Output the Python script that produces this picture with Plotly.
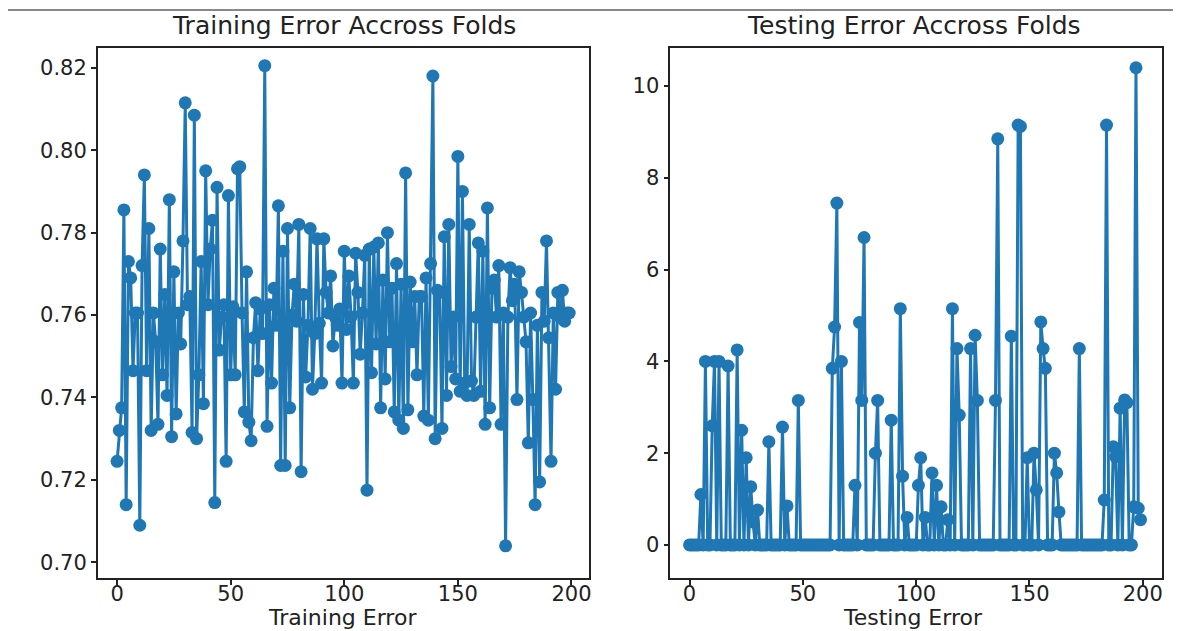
import plotly.graph_objects as go

# ---- data ----
train_error = [
    0.7245, 0.732, 0.7375, 0.7855, 0.714, 0.773, 0.769, 0.7465, 0.7605, 0.7605,
    0.709, 0.772, 0.794, 0.7465, 0.781, 0.732, 0.7605, 0.7535, 0.7335, 0.776,
    0.7455, 0.765, 0.7405, 0.788, 0.7305, 0.7705, 0.736, 0.7605, 0.753, 0.778,
    0.8115, 0.7625, 0.7645, 0.7315, 0.8085, 0.730, 0.7455, 0.773, 0.7385, 0.795,
    0.7625, 0.776, 0.783, 0.7145, 0.791, 0.7515, 0.7595, 0.7625, 0.7245, 0.789,
    0.7455, 0.762, 0.7455, 0.7955, 0.796, 0.7605, 0.7365, 0.7705, 0.734, 0.7295,
    0.7545, 0.763, 0.7465, 0.7615, 0.7555, 0.8205, 0.733, 0.7625, 0.7435, 0.7665,
    0.7575, 0.7865, 0.7235, 0.7755, 0.7235, 0.781, 0.7375, 0.760, 0.7675, 0.7585,
    0.782, 0.722, 0.765, 0.745, 0.7575, 0.781, 0.742, 0.7555, 0.7785, 0.758,
    0.7435, 0.7785, 0.7655, 0.7605, 0.7695, 0.7525, 0.7595, 0.7575, 0.7615, 0.7435,
    0.7755, 0.7565, 0.7695, 0.7595, 0.7435, 0.775, 0.7655, 0.7505, 0.7605, 0.7745,
    0.7175, 0.776, 0.746, 0.7765, 0.753, 0.7775, 0.7375, 0.7685, 0.7445, 0.780,
    0.7535, 0.7665, 0.7365, 0.7725, 0.7345, 0.7675, 0.7325, 0.7945, 0.737, 0.768,
    0.7535, 0.7645, 0.7455, 0.7645, 0.7645, 0.7355, 0.769, 0.7345, 0.7725, 0.818,
    0.730, 0.766, 0.7655, 0.7325, 0.779, 0.7405, 0.782, 0.7475, 0.7595, 0.7445,
    0.7985, 0.7415, 0.790, 0.7435, 0.7405, 0.782, 0.744, 0.7405, 0.7595, 0.7775,
    0.7415, 0.7755, 0.7335, 0.786, 0.7375, 0.7665, 0.7685, 0.7595, 0.772, 0.7335,
    0.7605, 0.704, 0.7595, 0.7715, 0.7635, 0.7675, 0.7395, 0.7705, 0.7655, 0.7595,
    0.7535, 0.729, 0.7605, 0.7395, 0.714, 0.7575, 0.7195, 0.7655, 0.7585, 0.778,
    0.7545, 0.7245, 0.7605, 0.742, 0.7655, 0.7595, 0.766, 0.7585, 0.7605, 0.7605,
]

test_error = [
    0, 0, 0, 0, 0, 1.1, 0, 4.0, 0, 0,
    2.6, 4.0, 0, 4.0, 0, 0, 0, 3.9, 0, 0,
    0, 4.25, 0, 2.5, 0, 1.9, 0, 1.27, 0.5, 0,
    0.76, 0, 0, 0, 0, 2.25, 0, 0, 0, 0,
    0, 2.57, 0, 0.85, 0, 0, 0, 0, 3.15, 0,
    0, 0, 0, 0, 0, 0, 0, 0, 0, 0,
    0, 0, 0, 3.85, 4.75, 7.45, 0, 4.0, 0, 0,
    0, 0, 0, 1.3, 0, 4.85, 3.15, 6.7, 0, 0,
    0, 0, 2.0, 3.15, 0, 0, 0, 0, 0, 2.72,
    0, 0, 0, 5.15, 1.5, 0, 0.6, 0, 0, 0,
    0, 1.3, 1.9, 0, 0.6, 0, 0, 1.57, 0, 1.3,
    0, 0.83, 0, 0, 0.55, 0, 5.15, 0, 4.28, 2.83,
    0, 0, 0, 0, 4.28, 0, 4.57, 3.15, 0, 0,
    0, 0, 0, 0, 0, 3.15, 8.85, 0, 0, 0,
    0, 0, 4.55, 0, 0, 9.15, 9.12, 0, 0, 1.9,
    0, 0, 2.0, 1.2, 0, 4.86, 4.28, 3.85, 0, 0,
    0, 2.0, 1.57, 0.72, 0, 0, 0, 0, 0, 0,
    0, 0, 4.28, 0, 0, 0, 0, 0, 0, 0,
    0, 0, 0, 0.98, 9.15, 0, 0, 2.14, 1.92, 0,
    2.98, 0, 3.16, 3.1, 0, 0, 0.83, 10.4, 0.8, 0.55,
]

folds = list(range(len(train_error)))

train_ticks = [0.70, 0.72, 0.74, 0.76, 0.78, 0.80, 0.82]
train_ticklabels = ["0.70", "0.72", "0.74", "0.76", "0.78", "0.80", "0.82"]
test_ticks = [0, 2, 4, 6, 8, 10]
x_ticks = [0, 50, 100, 150, 200]

# ---- figure ----
# page body has an 8px margin, so the figure starts at (8, 8) of the window
OFF = 8
W, H = 1181 - OFF, 631 - OFF
blue = "#1f77b4"
font_family = "DejaVu Sans"
txt = "#222"

fig = go.Figure()
fig.add_trace(go.Scatter(
    x=folds, y=train_error, mode="lines+markers",
    line=dict(color=blue, width=3),
    marker=dict(color=blue, size=13),
    xaxis="x", yaxis="y", showlegend=False,
))
fig.add_trace(go.Scatter(
    x=folds, y=test_error, mode="lines+markers",
    line=dict(color=blue, width=3),
    marker=dict(color=blue, size=13),
    xaxis="x2", yaxis="y2", showlegend=False,
))

def px_x(p):
    return (p - OFF) / W

def px_y(p):
    return 1 - (p - OFF) / H

axis_common = dict(
    showgrid=False, zeroline=False, showline=True, mirror=True,
    linecolor=txt, linewidth=1.5, ticks="outside", ticklen=5,
    tickwidth=1.5, tickcolor=txt,
    tickfont=dict(family=font_family, size=21, color=txt),
)

fig.update_layout(
    width=W, height=H,
    margin=dict(l=0, r=0, t=0, b=0),
    paper_bgcolor="white", plot_bgcolor="white",
    font=dict(family=font_family, color=txt),
    xaxis=dict(domain=[px_x(98), px_x(590)], anchor="y",
               range=[-8.5, 207.5], tickvals=x_ticks,
               ticklabelstandoff=-9, **axis_common),
    yaxis=dict(domain=[px_y(578), px_y(48)], anchor="x",
               range=[0.6962, 0.8248], tickvals=train_ticks,
               ticktext=train_ticklabels, **axis_common),
    xaxis2=dict(domain=[px_x(672), px_x(1165)], anchor="y2",
                range=[-8.5, 208.5], tickvals=x_ticks,
                ticklabelstandoff=-9, **axis_common),
    yaxis2=dict(domain=[px_y(578), px_y(48)], anchor="x2",
                range=[-0.72, 10.83], tickvals=test_ticks, **axis_common),
    annotations=[
        dict(text="Training Error Accross Folds", x=px_x(345), y=px_y(25),
             xref="paper", yref="paper", showarrow=False,
             xanchor="center", yanchor="middle",
             font=dict(family=font_family, size=25, color=txt)),
        dict(text="Testing Error Accross Folds", x=px_x(916), y=px_y(25),
             xref="paper", yref="paper", showarrow=False,
             xanchor="center", yanchor="middle",
             font=dict(family=font_family, size=25, color=txt)),
        dict(text="Training Error", x=px_x(343), y=px_y(617),
             xref="paper", yref="paper", showarrow=False,
             xanchor="center", yanchor="middle",
             font=dict(family=font_family, size=22, color=txt)),
        dict(text="Testing Error", x=px_x(915), y=px_y(617),
             xref="paper", yref="paper", showarrow=False,
             xanchor="center", yanchor="middle",
             font=dict(family=font_family, size=22, color=txt)),
    ],
    shapes=[
        dict(type="line", xref="paper", yref="paper",
             x0=0, x1=1, y0=px_y(10), y1=px_y(10),
             line=dict(color="#888", width=2)),
    ],
)

fig.write_html("out.html")
